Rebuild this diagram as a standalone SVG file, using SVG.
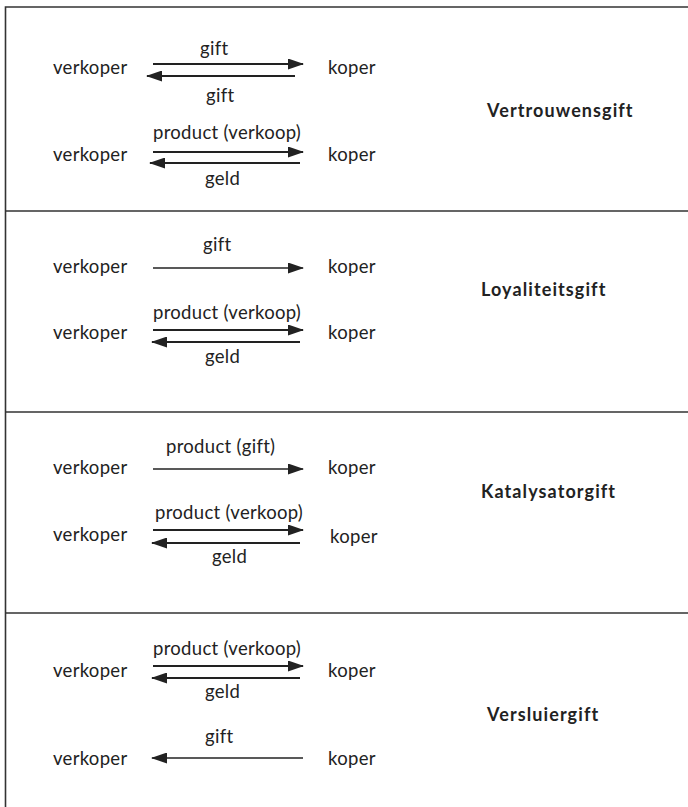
<svg xmlns="http://www.w3.org/2000/svg" width="688" height="807" viewBox="0 0 688 807">
<style>
text{font-family:Lato,"Liberation Sans",sans-serif;font-size:18.5px;letter-spacing:0.3px;fill:#222}
.t{font-weight:bold;font-size:18px;letter-spacing:1.1px}
.frame{stroke:#333;stroke-width:1.6;fill:none}
.a{stroke:#222;stroke-width:2.2;fill:none}
.s{stroke:#222;stroke-width:1.6;fill:none}
</style>
<defs>
<marker id="ah" viewBox="0 0 16 11" refX="15" refY="5.5" markerWidth="16" markerHeight="11" markerUnits="userSpaceOnUse" orient="auto">
<path d="M0,0 L16,5.5 L0,11 Z" fill="#222"/>
</marker>
</defs>
<g id="frame">
<path class="frame" d="M688,7 H5.5 V807"/>
<path class="frame" d="M5.5,211 H688 M5.5,412 H688 M5.5,613 H688"/>
</g>
<g id="s1">
<text x="53" y="74">verkoper</text>
<text x="328" y="74">koper</text>
<text x="53" y="161">verkoper</text>
<text x="328" y="161">koper</text>
<text x="200" y="55">gift</text>
<text x="206" y="102">gift</text>
<text x="153" y="139">product (verkoop)</text>
<text x="205" y="185">geld</text>
<text class="t" x="487" y="117">Vertrouwensgift</text>
</g>
<g id="s2">
<text x="53" y="273">verkoper</text>
<text x="328" y="273">koper</text>
<text x="53" y="339">verkoper</text>
<text x="328" y="339">koper</text>
<text x="203" y="251">gift</text>
<text x="153" y="319">product (verkoop)</text>
<text x="205" y="363">geld</text>
<text class="t" x="481" y="296">Loyaliteitsgift</text>
</g>
<g id="s3">
<text x="53" y="474">verkoper</text>
<text x="328" y="474">koper</text>
<text x="53" y="541">verkoper</text>
<text x="330" y="543">koper</text>
<text x="166" y="453">product (gift)</text>
<text x="155" y="519">product (verkoop)</text>
<text x="212" y="563">geld</text>
<text class="t" x="481" y="498">Katalysatorgift</text>
</g>
<g id="s4">
<text x="53" y="677">verkoper</text>
<text x="328" y="677">koper</text>
<text x="53" y="765">verkoper</text>
<text x="328" y="765">koper</text>
<text x="153" y="655">product (verkoop)</text>
<text x="205" y="698">geld</text>
<text x="205" y="743">gift</text>
<text class="t" x="487" y="721">Versluiergift</text>
</g>
<g id="connectors">
<line class="a" x1="153" y1="64" x2="303" y2="64" marker-end="url(#ah)"/>
<line class="a" x1="295" y1="76" x2="147" y2="76" marker-end="url(#ah)"/>
<line class="a" x1="153" y1="152" x2="303" y2="152" marker-end="url(#ah)"/>
<line class="a" x1="300" y1="163" x2="150" y2="163" marker-end="url(#ah)"/>
<line class="s" x1="153" y1="268" x2="303" y2="268" marker-end="url(#ah)"/>
<line class="a" x1="153" y1="330" x2="303" y2="330" marker-end="url(#ah)"/>
<line class="a" x1="300" y1="342" x2="152" y2="342" marker-end="url(#ah)"/>
<line class="s" x1="153" y1="469" x2="303" y2="469" marker-end="url(#ah)"/>
<line class="a" x1="153" y1="530" x2="303" y2="530" marker-end="url(#ah)"/>
<line class="a" x1="300" y1="543" x2="152" y2="543" marker-end="url(#ah)"/>
<line class="a" x1="153" y1="666" x2="303" y2="666" marker-end="url(#ah)"/>
<line class="a" x1="300" y1="678" x2="152" y2="678" marker-end="url(#ah)"/>
<line class="s" x1="303" y1="758" x2="152" y2="758" marker-end="url(#ah)"/>
</g>
</svg>
